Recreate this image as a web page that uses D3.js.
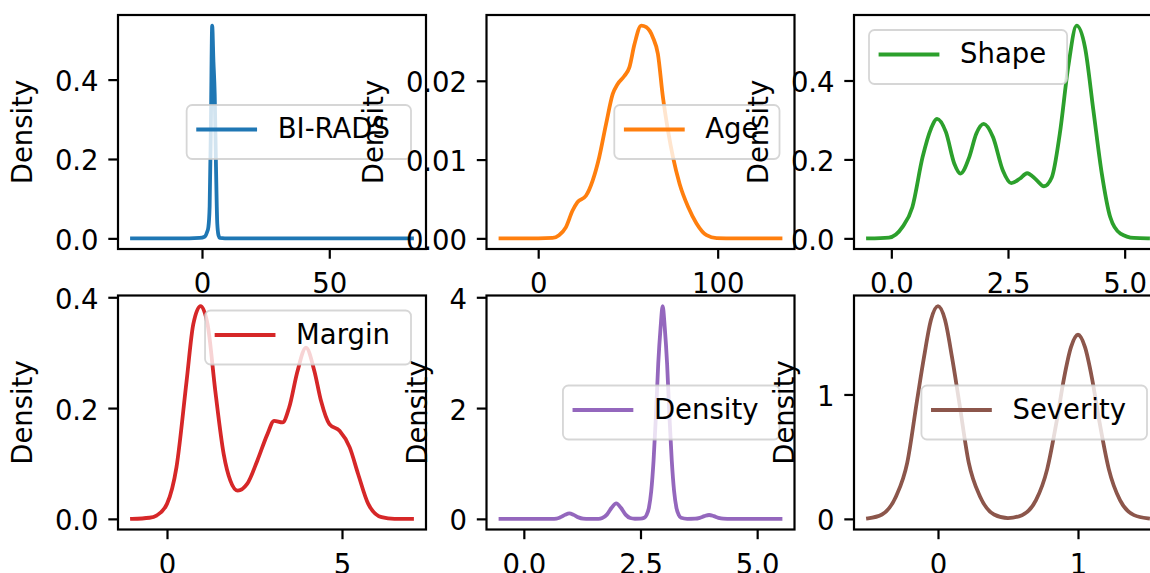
<!DOCTYPE html>
<html><head><meta charset="utf-8">
<script src="https://cdn.jsdelivr.net/npm/d3@7"></script>
<style>
body{margin:0;background:#fff;overflow:hidden}
svg{display:block}
text{font-family:"DejaVu Sans",sans-serif}
</style>
</head><body>
<svg id="chart" width="1150" height="573"></svg>
<script>
// ---- data ----
const columns = ["BI-RADS", "Age", "Shape", "Margin", "Density", "Severity"];
const colors = ["#1f77b4", "#ff7f0e", "#2ca02c", "#d62728", "#9467bd", "#8c564b"];

const biradsCurve = [[-27.5,0],[-5,0],[-1,0.001],[1,0.004],[2,0.016],[2.5,0.028],[3,0.08],[3.5,0.29],[4,0.536],[4.5,0.445],[5,0.362],[5.5,0.18],[6,0.037],[6.5,0.007],[7,0.001],[9,0],[82.5,0]];
const ageCurve = [[-21,0],[0,0],[8,0.00005],[11.6,0.0004],[15.4,0.0014],[19.1,0.0035],[21.9,0.0046],[26.6,0.0054],[30.3,0.0073],[34,0.0103],[37.8,0.0145],[41.5,0.0183],[44.3,0.0196],[48,0.0206],[50.8,0.0217],[53.6,0.0246],[57.4,0.0270],[60.2,0.0268],[63.9,0.0255],[66.7,0.0234],[69.5,0.0179],[72.3,0.0137],[75.1,0.0103],[78.8,0.0069],[83.5,0.0040],[88.2,0.0019],[93.8,0.0004],[99.4,0.00003],[110,0],[135,0]];
const shapeCurve = [[-0.5,0],[-0.05,0.002],[0.24,0.029],[0.45,0.079],[0.67,0.206],[0.85,0.278],[0.98,0.303],[1.17,0.269],[1.35,0.189],[1.48,0.164],[1.67,0.206],[1.82,0.265],[1.98,0.290],[2.18,0.256],[2.39,0.172],[2.57,0.140],[2.75,0.151],[2.91,0.165],[3.11,0.148],[3.27,0.132],[3.44,0.155],[3.61,0.265],[3.79,0.434],[3.97,0.539],[4.15,0.484],[4.33,0.324],[4.51,0.164],[4.69,0.054],[4.91,0.012],[5.2,0.001],[5.5,0]];
const marginCurve = [[-1,0],[-0.5,0.002],[-0.3,0.006],[0,0.027],[0.27,0.093],[0.56,0.249],[0.75,0.351],[0.96,0.384],[1.16,0.351],[1.38,0.231],[1.62,0.117],[1.81,0.069],[2.02,0.051],[2.29,0.063],[2.58,0.105],[2.87,0.153],[3.06,0.177],[3.3,0.174],[3.49,0.201],[3.73,0.267],[3.97,0.309],[4.21,0.267],[4.4,0.213],[4.64,0.171],[4.93,0.159],[5.22,0.129],[5.46,0.081],[5.75,0.027],[6.13,0.003],[6.5,0],[7,0]];
const densityCurve = [[-0.5,0],[0.6,0],[0.7,0.005],[0.78,0.027],[0.88,0.072],[0.975,0.10],[1.07,0.072],[1.17,0.027],[1.27,0.005],[1.4,0],[1.6,0],[1.68,0.015],[1.78,0.076],[1.88,0.2],[1.98,0.28],[2.08,0.2],[2.18,0.076],[2.28,0.015],[2.38,0.002],[2.5,0.003],[2.58,0.02],[2.63,0.07],[2.68,0.2],[2.73,0.5],[2.78,1.05],[2.83,1.85],[2.88,2.8],[2.93,3.45],[2.975,3.84],[3.02,3.45],[3.07,2.8],[3.12,1.85],[3.17,1.05],[3.22,0.5],[3.27,0.2],[3.32,0.07],[3.37,0.02],[3.5,0.001],[3.67,0.004],[3.77,0.019],[3.87,0.05],[3.97,0.07],[4.07,0.05],[4.17,0.019],[4.27,0.004],[4.45,0],[5.5,0]];
const severityCurve = [[-0.5,0.004],[-0.4,0.035],[-0.3,0.18],[-0.22,0.45],[-0.15,0.95],[-0.1,1.3],[-0.05,1.6],[0,1.71],[0.05,1.6],[0.1,1.3],[0.15,0.95],[0.22,0.45],[0.3,0.18],[0.4,0.035],[0.5,0.006],[0.6,0.03],[0.7,0.15],[0.78,0.4],[0.85,0.8],[0.9,1.13],[0.95,1.38],[1.0,1.48],[1.05,1.38],[1.1,1.13],[1.15,0.8],[1.22,0.4],[1.3,0.15],[1.4,0.03],[1.5,0.004]];
const curves = [biradsCurve, ageCurve, shapeCurve, marginCurve, densityCurve, severityCurve];

const xTickValues = [[0,50],[0,100],[0,2.5,5],[0,5],[0,2.5,5],[0,1]];
const xTickLabels = [["0","50"],["0","100"],["0.0","2.5","5.0"],["0","5"],["0.0","2.5","5.0"],["0","1"]];
const yTickValues = [[0,0.2,0.4],[0,0.01,0.02],[0,0.2,0.4],[0,0.2,0.4],[0,2,4],[0,1]];
const yTickLabels = [["0.0","0.2","0.4"],["0.00","0.01","0.02"],["0.0","0.2","0.4"],["0.0","0.2","0.4"],["0","2","4"],["0","1"]];
const legendLoc = ["center right","center right","upper left","upper right","center right","center right"];
const yLabel = "Density";

// ---- layout ----
const colLeft = [118, 486.5, 854];
const rowTop = [15, 295.5];
const axW = 308, axH = 234;
const fs = 27.5;
const tickLen = 9.7, tickPad = 9.7, spineW = 2.2, lineW = 3.8;

const svg = d3.select("#chart");
svg.append("rect").attr("width",1150).attr("height",573).attr("fill","#fff");

columns.forEach((name, i) => {
  const data = curves[i];
  const x0 = colLeft[i % 3], y0 = rowTop[Math.floor(i / 3)];
  const g = svg.append("g").attr("transform", `translate(${x0},${y0})`);

  const [xmin, xmax] = d3.extent(data, d => d[0]);
  const ymax = d3.max(data, d => d[1]);
  const xr = xmax - xmin;
  const x = d3.scaleLinear().domain([xmin - 0.05 * xr, xmax + 0.05 * xr]).range([0, axW]);
  const y = d3.scaleLinear().domain([-0.05 * ymax, 1.05 * ymax]).range([axH, 0]);

  g.append("rect").attr("width", axW).attr("height", axH).attr("fill", "#fff");

  const clipId = "clip" + i;
  g.append("clipPath").attr("id", clipId).append("rect").attr("width", axW).attr("height", axH);

  g.append("path").datum(data)
    .attr("clip-path", `url(#${clipId})`)
    .attr("fill", "none").attr("stroke", colors[i]).attr("stroke-width", lineW)
    .attr("stroke-linejoin", "round").attr("stroke-linecap", "square")
    .attr("d", d3.line().x(d => x(d[0])).y(d => y(d[1])).curve(d3.curveMonotoneX));

  g.append("rect").attr("width", axW).attr("height", axH)
    .attr("fill", "none").attr("stroke", "#000").attr("stroke-width", spineW);

  const xAxis = g.append("g").attr("transform", `translate(0,${axH})`)
    .call(d3.axisBottom(x).tickValues(xTickValues[i])
      .tickFormat((d, k) => xTickLabels[i][k]).tickSize(tickLen).tickPadding(tickPad).tickSizeOuter(0));
  const yAxis = g.append("g")
    .call(d3.axisLeft(y).tickValues(yTickValues[i])
      .tickFormat((d, k) => yTickLabels[i][k]).tickSize(tickLen).tickPadding(tickPad).tickSizeOuter(0));
  [xAxis, yAxis].forEach(a => {
    a.select(".domain").remove();
    a.attr("font-family", null).attr("font-size", null);
    a.selectAll("line").attr("stroke", "#000").attr("stroke-width", spineW);
    a.selectAll("text").attr("fill", "#000").style("font-size", fs + "px");
  });
  xAxis.selectAll("text").attr("y", tickLen + tickPad).attr("dy", "0.9em");
  yAxis.selectAll("text").attr("dy", "0.4em");

  let minX = Infinity;
  yAxis.selectAll("text").each(function () { minX = Math.min(minX, this.getBBox().x); });
  g.append("text")
    .attr("transform", `translate(${minX - 23},${axH / 2}) rotate(-90)`)
    .attr("text-anchor", "middle").attr("fill", "#000")
    .style("font-size", fs + "px").text(yLabel);

  // legend
  const lg = g.append("g");
  const box = lg.append("rect");
  const handle = lg.append("line");
  const label = lg.append("text").attr("fill", "#000").style("font-size", fs + "px").text(name);
  const tw = label.node().getComputedTextLength();
  const bw = 91 + tw + 21, bh = 54;
  const loc = legendLoc[i];
  const off = 15;
  const bx = loc.includes("left") ? off : axW - off - bw;
  const by = loc.startsWith("upper") ? off : (axH - bh) / 2;
  box.attr("x", bx).attr("y", by).attr("width", bw).attr("height", bh)
    .attr("rx", 5.5).attr("ry", 5.5)
    .attr("fill", "#fff").attr("fill-opacity", 0.8)
    .attr("stroke", "#cccccc").attr("stroke-opacity", 0.8).attr("stroke-width", 1.8);
  handle.attr("x1", bx + 11.5).attr("x2", bx + 11.5 + 57).attr("y1", by + 24.5).attr("y2", by + 24.5)
    .attr("stroke", colors[i]).attr("stroke-width", lineW).attr("stroke-linecap", "square");
  label.attr("x", bx + 91).attr("y", by + 33);
});
</script>
</body></html>
